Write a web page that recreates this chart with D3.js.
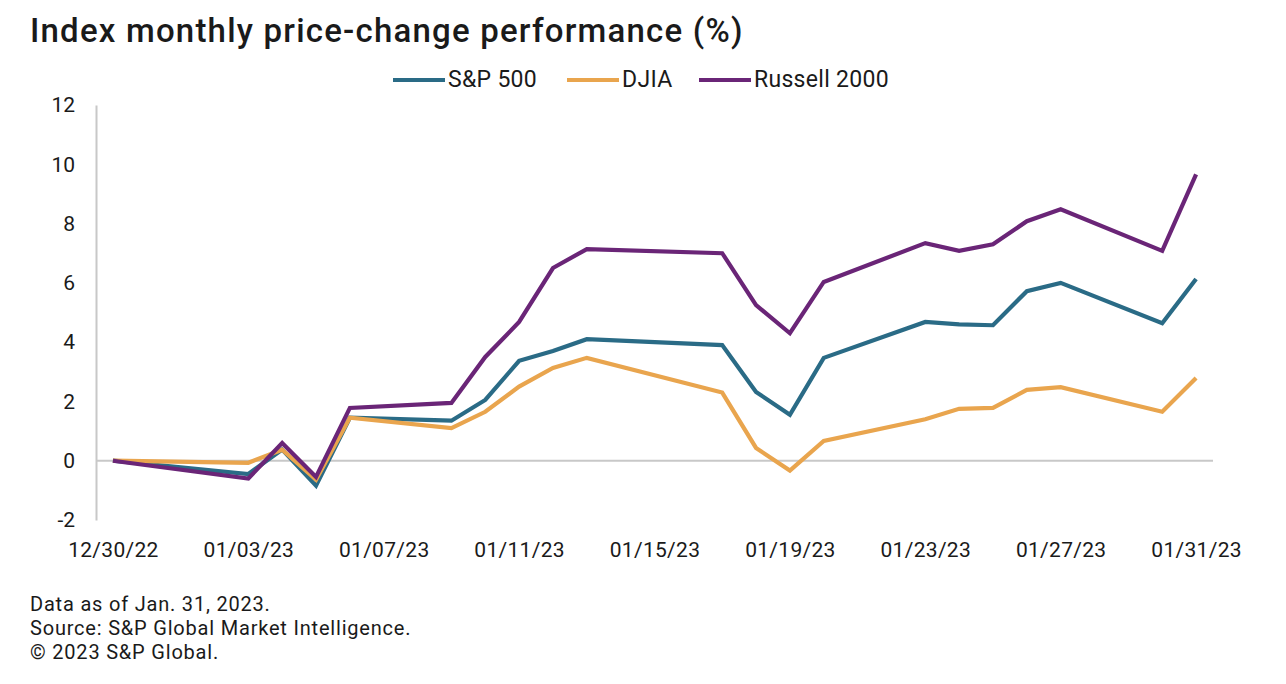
<!DOCTYPE html>
<html>
<head>
<meta charset="utf-8">
<script src="https://cdn.jsdelivr.net/npm/d3@7"></script>
<style>
  body { margin: 0; background: #fff; }
  svg text { font-family: Roboto, "Noto Sans", sans-serif; fill: #1a1a1a; }
</style>
</head>
<body>
<svg width="1286" height="684"></svg>
<script>
// trading days in the month
const dates = ["2022-12-30", "2023-01-03", "2023-01-04", "2023-01-05", "2023-01-06",
    "2023-01-09", "2023-01-10", "2023-01-11", "2023-01-12", "2023-01-13",
    "2023-01-17", "2023-01-18", "2023-01-19", "2023-01-20", "2023-01-23",
    "2023-01-24", "2023-01-25", "2023-01-26", "2023-01-27", "2023-01-30", "2023-01-31"];

const sp500 = [0, -0.45, 0.38, -0.84, 1.45, 1.35, 2.05, 3.37, 3.7, 4.1,
    3.9, 2.32, 1.55, 3.47, 4.68, 4.6, 4.57, 5.72, 6.0, 4.64, 6.13];
const djia = [0, -0.07, 0.37, -0.64, 1.45, 1.1, 1.65, 2.5, 3.13, 3.47,
    2.3, 0.43, -0.33, 0.67, 1.4, 1.75, 1.78, 2.39, 2.48, 1.65, 2.79];
const russell = [0, -0.6, 0.6, -0.55, 1.78, 1.95, 3.5, 4.68, 6.5, 7.14,
    7.0, 5.25, 4.3, 6.03, 7.34, 7.08, 7.3, 8.08, 8.48, 7.08, 9.66];

const seriesNames = ["S&P 500", "DJIA", "Russell 2000"];
const xTickLabels = ["12/30/22", "01/03/23", "01/07/23", "01/11/23", "01/15/23",
    "01/19/23", "01/23/23", "01/27/23", "01/31/23"];
const yTicks = [-2, 0, 2, 4, 6, 8, 10, 12];

const colors = ["#2a6b86", "#e9a54e", "#6a2577"];

const parse = d3.timeParse("%Y-%m-%d");
const parseTick = d3.timeParse("%m/%d/%y");
const fmtTick = d3.timeFormat("%m/%d/%y");

const svg = d3.select("svg");

const plotLeft = 96, plotRight = 1213, plotTop = 105, plotBottom = 520;

const x = d3.scaleTime()
    .domain([d3.timeHour.offset(parse("2022-12-30"), -12), d3.timeHour.offset(parse("2023-01-31"), 12)])
    .range([plotLeft, plotRight]);
const y = d3.scaleLinear().domain([-2, 12]).range([plotBottom, plotTop]);

// title
svg.append("text")
    .attr("x", 30).attr("y", 42)
    .attr("font-size", 33)
    .attr("font-weight", 500)
    .attr("letter-spacing", 1.2)
    .text("Index monthly price-change performance (%)");

// legend
const legendX = [393, 567, 699];
seriesNames.forEach((name, i) => {
    svg.append("line")
        .attr("x1", legendX[i]).attr("x2", legendX[i] + 52)
        .attr("y1", 80).attr("y2", 80)
        .attr("stroke", colors[i]).attr("stroke-width", 4);
    svg.append("text")
        .attr("x", legendX[i] + 55).attr("y", 87)
        .attr("font-size", 23)
        .attr("letter-spacing", 0.3)
        .text(name);
});

// y axis (plain hyphen for negatives, like the original)
const yAxis = svg.append("g")
    .attr("transform", `translate(${plotLeft},0)`)
    .call(d3.axisLeft(y).tickValues(yTicks).tickFormat((d) => String(d)).tickSize(0).tickPadding(21));
yAxis.select(".domain").attr("stroke", "#c8c8c8").attr("stroke-width", 2);
yAxis.selectAll("text").attr("font-size", 21).attr("fill", "#1a1a1a");

// zero line
svg.append("line")
    .attr("x1", plotLeft).attr("x2", plotRight)
    .attr("y1", y(0)).attr("y2", y(0))
    .attr("stroke", "#c8c8c8").attr("stroke-width", 2);

// x axis labels
const xAxis = svg.append("g")
    .attr("transform", `translate(0,${plotBottom + 19})`)
    .call(d3.axisBottom(x).tickValues(xTickLabels.map(parseTick)).tickFormat(fmtTick).tickSize(0));
xAxis.select(".domain").remove();
xAxis.selectAll("text").attr("font-size", 21).attr("letter-spacing", 0.3).attr("fill", "#1a1a1a");

// lines
const line = d3.line()
    .x((d, i) => x(parse(dates[i])))
    .y((d) => y(d));

[sp500, djia, russell].forEach((vals, i) => {
    svg.append("path")
        .attr("d", line(vals))
        .attr("fill", "none")
        .attr("stroke", colors[i])
        .attr("stroke-width", 4.2)
        .attr("stroke-linejoin", "miter");
});

// footnotes
const notes = ["Data as of Jan. 31, 2023.", "Source: S&P Global Market Intelligence.", "© 2023 S&P Global."];
notes.forEach((t, i) => {
    svg.append("text")
        .attr("x", 30).attr("y", 611 + i * 24)
        .attr("font-size", 20)
        .attr("letter-spacing", 0.8)
        .text(t);
});
</script>
</body>
</html>
